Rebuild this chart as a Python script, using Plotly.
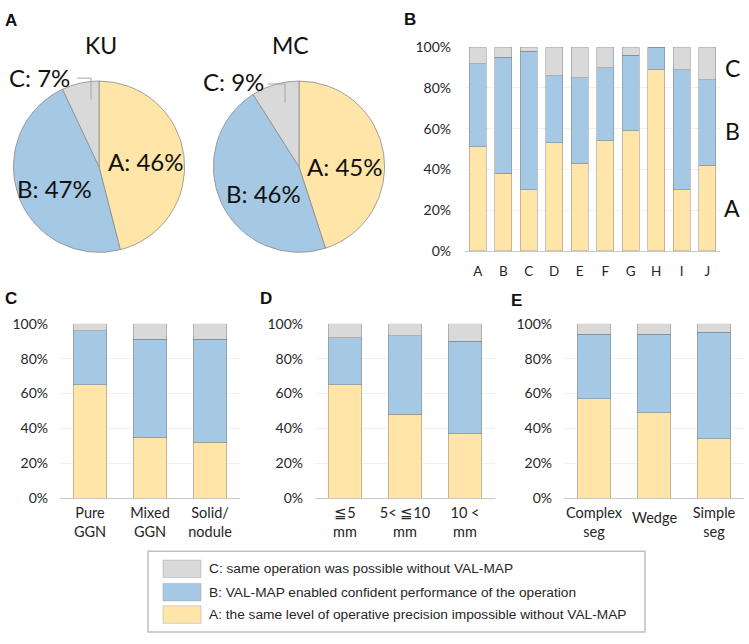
import plotly.graph_objects as go

W, H = 749, 644
def px(x): return x / W
def py(y): return 1 - y / H

# ---------------- data ----------------
pie_groups = ["KU", "MC"]
pie_labels = ["A", "B", "C"]
ku_values = [46, 47, 7]
mc_values = [45, 46, 9]

b_categories = ["A", "B", "C", "D", "E", "F", "G", "H", "I", "J"]
b_A = [51, 38, 30, 53, 43, 54, 59, 89, 30, 42]
b_B = [41, 57, 68, 33, 42, 36, 37, 11, 59, 42]
b_C = [8, 5, 2, 14, 15, 10, 4, 0, 11, 16]

c_categories = ["Pure<br>GGN", "Mixed<br>GGN", "Solid/<br>nodule"]
c_A = [65, 35, 32]
c_B = [31, 56, 59]
c_C = [4, 9, 9]

d_categories = ["\u22665<br>mm", "5< \u226610<br>mm", "10 <<br>mm"]
d_A = [65, 48, 37]
d_B = [27, 45, 53]
d_C = [8, 7, 10]

e_categories = ["Complex<br>seg", "Wedge", "Simple<br>seg"]
e_A = [57, 49, 34]
e_B = [37, 45, 61]
e_C = [6, 6, 5]

y_ticks = [0, 20, 40, 60, 80, 100]
y_tick_labels = ["0%", "20%", "40%", "60%", "80%", "100%"]

legend_texts = [
    "C: same operation was possible without VAL-MAP",
    "B: VAL-MAP enabled confident performance of the operation",
    "A: the same level of operative precision impossible without VAL-MAP",
]

# ---------------- styles ----------------
COL_A = "#FFE5A8"
COL_B = "#A5C8E4"
COL_C = "#D9D9D9"
colors = [COL_A, COL_B, COL_C]
OUTLINE = "rgba(120,120,120,0.55)"
FONT = "Lato"
TXT = "#262626"

fig = go.Figure()

# ---------------- pies ----------------
pie_domains = [(11, 187), (211, 387)]
for name, vals, (x0, x1) in zip(pie_groups, [ku_values, mc_values], pie_domains):
    fig.add_trace(go.Pie(
        labels=pie_labels, values=vals, sort=False, direction="clockwise", rotation=0,
        marker=dict(colors=colors, line=dict(color="#8C8C8C", width=0.8)),
        textinfo="none", hoverinfo="label+percent", showlegend=False,
        domain=dict(x=[px(x0), px(x1)], y=[py(250), py(74)]),
        name=name,
    ))

# ---------------- bars ----------------
panels = [
    ("", b_categories, [b_A, b_B, b_C], (465, 720), (248.3, 39.3), 0.67),
    ("2", c_categories, [c_A, c_B, c_C], (60, 240), (502.3, 323.3), 0.56),
    ("3", d_categories, [d_A, d_B, d_C], (315, 495), (502.3, 323.3), 0.56),
    ("4", e_categories, [e_A, e_B, e_C], (564, 744), (502.3, 323.3), 0.56),
]

layout_axes = {}
for suffix, cats, series, (xa, xb), (yb, yt), bw in panels:
    for lab, vals, col in zip(pie_labels, series, colors):
        fig.add_trace(go.Bar(
            x=cats, y=vals, name=lab, width=bw,
            marker=dict(color=col, line=dict(color=OUTLINE, width=0.8)),
            xaxis="x" + suffix, yaxis="y" + suffix, showlegend=False,
        ))
    big = suffix == ""
    tick_text = [("" if c == "Wedge" else c) for c in cats]
    layout_axes["xaxis" + suffix] = dict(
        domain=[px(xa), px(xb)], anchor="y" + suffix, type="category",
        tickvals=cats, ticktext=tick_text,
        showline=True, linecolor="#C8C8C8", linewidth=1, ticks="",
        showgrid=False, zeroline=False,
        tickfont=dict(family=FONT, size=13.5 if big else 14.5, color=TXT),
        ticklabelstandoff=8 if big else 2,
        fixedrange=True,
    )
    layout_axes["yaxis" + suffix] = dict(
        domain=[py(yb), py(yt)], anchor="x" + suffix, range=[0, 100],
        tickmode="array", tickvals=y_ticks, ticktext=y_tick_labels,
        showgrid=True, gridcolor="#F0F0F0",
        gridwidth=1, zeroline=False, showline=False, ticks="",
        tickfont=dict(family=FONT, size=14, color=TXT),
        ticklabelstandoff=13 if big else 11,
        fixedrange=True,
    )

fig.update_layout(**layout_axes)

annotations = []
# panel letters
for letter, x, y in [("A", 3, 12), ("B", 402, 11), ("C", 3, 297), ("D", 258, 297), ("E", 509, 299)]:
    annotations.append(dict(text="<b>" + letter + "</b>", x=px(x), y=py(y), xref="paper", yref="paper",
                            xanchor="left", yanchor="middle", showarrow=False,
                            font=dict(family="Liberation Sans", size=17, color="#111111")))

# pie titles
for name, x in zip(pie_groups, [101, 290]):
    annotations.append(dict(text=name, x=px(x), y=py(37), xref="paper", yref="paper",
                            xanchor="center", yanchor="middle", showarrow=False,
                            font=dict(family=FONT, size=23, color="#111111")))

# pie slice labels
pie_label_pos = [
    [(145, 157), (54, 184), (39, 70)],
    [(344, 162), (263, 190), (233, 74)],
]
for vals, positions in zip([ku_values, mc_values], pie_label_pos):
    for lab, v, (x, y) in zip(pie_labels, vals, positions):
        annotations.append(dict(text=f"{lab}: {v}%", x=px(x), y=py(y), xref="paper", yref="paper",
                                xanchor="center", yanchor="middle", showarrow=False,
                                font=dict(family=FONT, size=24, color="#111111")))

# panel B series letters on the right
for lab, y in zip(pie_labels, [204, 125, 61]):
    annotations.append(dict(text=lab, x=px(732), y=py(y), xref="paper", yref="paper",
                            xanchor="center", yanchor="middle", showarrow=False,
                            font=dict(family=FONT, size=23, color="#111111")))

# centred single-line tick label for "Wedge"
annotations.append(dict(text="Wedge", x="Wedge", xref="x4", y=py(522), yref="paper",
                        xanchor="center", yanchor="middle", showarrow=False,
                        font=dict(family=FONT, size=14.5, color=TXT)))

# legend texts
leg_rows = [575, 599, 622]
for t, y in zip(legend_texts, leg_rows):
    annotations.append(dict(text=t, x=px(207), y=py(y), xref="paper", yref="paper",
                            xanchor="left", yanchor="middle", showarrow=False,
                            font=dict(family="Liberation Sans", size=13.7, color=TXT)))

shapes = []
# leader lines for the C labels
for (xs, xe, ys, ye) in [(77, 91, 71, 93), (268, 285, 77, 96)]:
    shapes.append(dict(type="path", xref="paper", yref="paper",
                       path=f"M {px(xs)} {py(ys)} L {px(xe)} {py(ys)} L {px(xe)} {py(ye)}",
                       line=dict(color="#A6A6A6", width=1)))
# legend box
shapes.append(dict(type="rect", xref="paper", yref="paper", x0=px(148), x1=px(645),
                   y0=py(640), y1=py(557), line=dict(color="#BFBFBF", width=1.5)))
# legend swatches
for col, y in zip([COL_C, COL_B, COL_A], leg_rows):
    shapes.append(dict(type="rect", xref="paper", yref="paper", x0=px(163), x1=px(201),
                       y0=py(y + 9), y1=py(y - 9), fillcolor=col,
                       line=dict(color="rgba(150,150,150,0.5)", width=0.8)))

fig.update_layout(
    width=W, height=H, margin=dict(l=0, r=0, t=0, b=0),
    paper_bgcolor="white", plot_bgcolor="white",
    barmode="stack", showlegend=False,
    annotations=annotations, shapes=shapes,
    font=dict(family=FONT, color=TXT),
)

fig.write_html(
    "out.html",
    config={"displayModeBar": False},
    post_script="document.body.style.margin='0';document.body.style.overflow='hidden';",
)
